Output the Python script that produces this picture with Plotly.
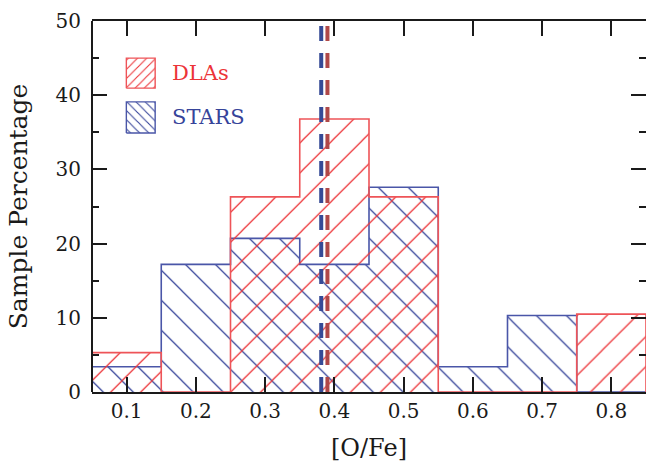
import plotly.graph_objects as go

# Histogram of [O/Fe] for the two samples (percent of each sample per 0.1 dex bin)
bin_centers = [0.1, 0.2, 0.3, 0.4, 0.5, 0.6, 0.7, 0.8]
bin_width = 0.1
dla_pct = [5.3, 0.0, 26.3, 36.8, 26.3, 0.0, 0.0, 10.5]
star_pct = [3.4, 17.2, 20.7, 17.2, 27.6, 3.4, 10.3, 0.0]

# Sample means, shown as dashed vertical lines
star_mean = 0.381
dla_mean = 0.390

x_ticks = [0.1, 0.2, 0.3, 0.4, 0.5, 0.6, 0.7, 0.8]
y_ticks = [0, 10, 20, 30, 40, 50]

RED = "#ec3438"
RED_EDGE = "#ee5458"
BLUE = "#36449a"
BLUE_EDGE = "#4a56a8"
RED_MEAN = "#b04848"
BLUE_MEAN = "#364a96"
FONT = "DejaVu Serif"


def step_outline(centers, values, width):
    """Points for an 'hv' step curve that closes down to zero at both ends."""
    left = [c - width / 2 for c in centers]
    xs = [left[0]] + left + [centers[-1] + width / 2, centers[-1] + width / 2]
    ys = [0.0] + list(values) + [values[-1], 0.0]
    return xs, ys


def hatch(shape, color, size, solidity):
    return dict(shape=shape, fgcolor=color, bgcolor="rgba(0,0,0,0)",
                fgopacity=1, size=size, solidity=solidity, fillmode="overlay")


fig = go.Figure()

for vals, fg, edge, shape in [
    (star_pct, BLUE, BLUE_EDGE, "\\"),
    (dla_pct, RED, RED_EDGE, "/"),
]:
    xs, ys = step_outline(bin_centers, vals, bin_width)
    fig.add_trace(go.Scatter(
        x=xs, y=ys, mode="lines", line=dict(shape="hv", color=edge, width=1.6),
        fill="tozeroy", fillcolor="rgba(0,0,0,0)",
        fillpattern=hatch(shape, fg, 21.2, 0.06),
        showlegend=False, hoverinfo="skip",
    ))

# Dashed mean lines
for m, col in [(star_mean, BLUE_MEAN), (dla_mean, RED_MEAN)]:
    fig.add_trace(go.Scatter(
        x=[m, m], y=[0, 50], mode="lines",
        line=dict(color=col, width=4, dash="15px,12px"),
        showlegend=False, hoverinfo="skip",
    ))

# Hand-drawn key: hatched swatches on an overlay axis spanning the plot area
legend_items = [
    ("DLAs", RED, RED_EDGE, "/", 0.819, 0.900),
    ("STARS", BLUE, BLUE_EDGE, "\\", 0.698, 0.782),
]
sx0, sx1 = 0.062, 0.114
for label, fg, edge, shape, y0, y1 in legend_items:
    fig.add_trace(go.Scatter(
        x=[sx0, sx1, sx1, sx0, sx0], y=[y0, y0, y1, y1, y0],
        xaxis="x2", yaxis="y2", mode="lines",
        line=dict(color=edge, width=1.4), fill="toself",
        fillcolor="rgba(0,0,0,0)",
        fillpattern=hatch(shape, fg, 6.5, 0.17),
        showlegend=False, hoverinfo="skip",
    ))
    fig.add_annotation(
        x=0.141, y=(y0 + y1) / 2, xref="x domain", yref="y domain",
        text=label, showarrow=False, xanchor="left", yanchor="middle",
        font=dict(family=FONT, size=21, color=fg),
    )

# Left frame edge (the y axis line itself is hidden so its mirror is not drawn)
fig.add_shape(type="line", xref="x domain", yref="y domain",
              x0=0, x1=0, y0=0, y1=1, line=dict(color="#1a1a1a", width=2))

axis_font = dict(family=FONT, size=20, color="#1a1a1a")
fig.update_layout(
    width=646, height=462,
    margin=dict(l=92, r=0, t=21, b=70),
    paper_bgcolor="white", plot_bgcolor="white",
    xaxis=dict(
        range=[0.05, 0.85], tickvals=x_ticks, ticktext=[f"{v:.1f}" for v in x_ticks],
        ticks="inside", ticklen=15, tickwidth=1.5, tickcolor="#1a1a1a",
        showline=True, linecolor="#1a1a1a", linewidth=2, mirror="ticks",
        showgrid=False, zeroline=False, tickfont=axis_font,
        title=dict(text="[O/Fe]", font=dict(family=FONT, size=24, color="#1a1a1a"),
                   standoff=20),
    ),
    yaxis=dict(
        range=[0, 50], tickvals=y_ticks,
        ticks="inside", ticklen=15, tickwidth=1.5, tickcolor="#1a1a1a",
        showline=False, mirror="ticks", ticklabelstandoff=10,
        minor=dict(dtick=5, ticks="inside", ticklen=7, tickwidth=1.5,
                   tickcolor="#1a1a1a", showgrid=False),
        showgrid=False, zeroline=False, tickfont=axis_font,
        title=dict(text="Sample Percentage",
                   font=dict(family=FONT, size=25, color="#1a1a1a"), standoff=20),
    ),
    xaxis2=dict(overlaying="x", range=[0, 1], visible=False, anchor="y2"),
    yaxis2=dict(overlaying="y", range=[0, 1], visible=False, anchor="x2"),
)

fig.write_html("out.html")
